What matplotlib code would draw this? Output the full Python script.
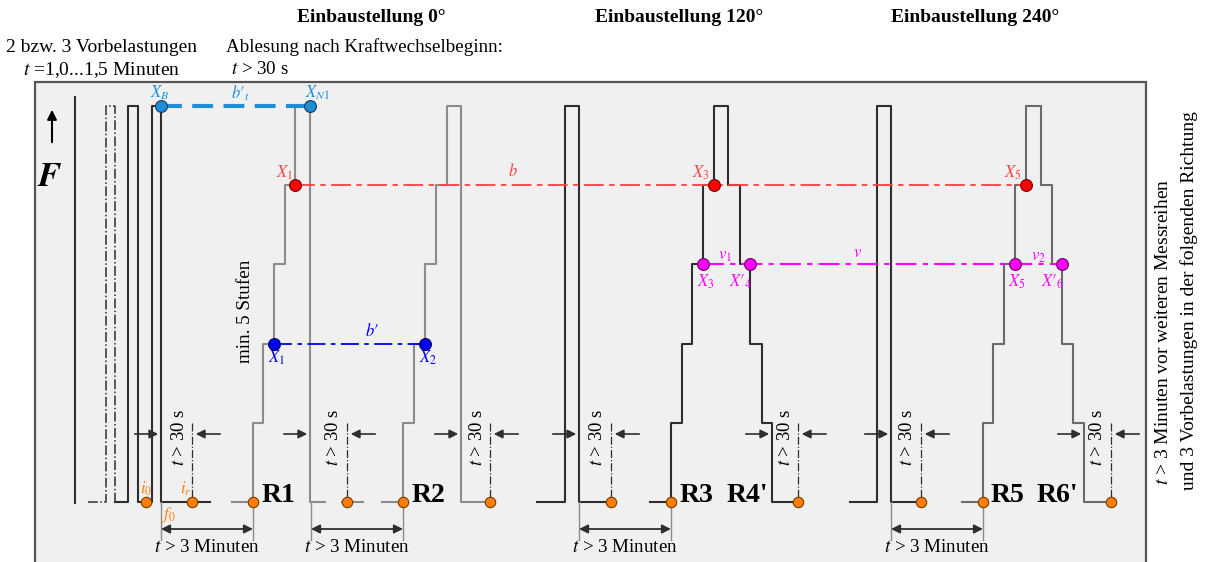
import matplotlib.pyplot as plt
from matplotlib.patches import Rectangle

plt.rcParams['font.family'] = ['Liberation Serif', 'DejaVu Serif']
plt.rcParams['mathtext.fontset'] = 'stix'

# force levels: 0 = baseline, 1..4 = load steps, 5 = full load
BASE_Y = 502
STEP = 79.2

# load profiles (time positions where the level changes, level after the change)
pre_dashdot_x = [88, 106, 115, 115]
pre_dashdot_lvl = [0, 5, 0, 0]
pre_solid_x = [115, 128, 138, 152, 161, 210]
pre_solid_lvl = [0, 5, 0, 5, 0, 0]
r1_x = [232, 253, 263, 274, 285, 295, 310, 325]
r1_lvl = [0, 1, 2, 3, 4, 5, 0, 0]
gap_x = [342, 363]
gap_lvl = [0, 0]
r2_x = [382, 403, 414, 425, 436, 447, 461, 490]
r2_lvl = [0, 1, 2, 3, 4, 5, 0, 0]
pulse120_x = [537, 565, 579, 611]
pulse120_lvl = [0, 5, 0, 0]
r34_x = [650, 671, 682, 692, 703, 714, 728, 740, 750, 762, 772, 798]
r34_lvl = [0, 1, 2, 3, 4, 5, 4, 3, 2, 1, 0, 0]
pulse240_x = [850, 877, 891, 921]
pulse240_lvl = [0, 5, 0, 0]
r56_x = [962, 983, 993, 1004, 1015, 1026, 1041, 1052, 1062, 1073, 1084, 1111]
r56_lvl = [0, 1, 2, 3, 4, 5, 4, 3, 2, 1, 0, 0]

# reading points
zero_x = [146, 192, 253, 347, 403, 490, 611, 671, 798, 921, 983, 1111]
top_x = [161, 310]
red_x = [295, 714, 1026]
mag_x = [703, 750, 1015, 1062]
blue_x = [274, 425]

# time dimensions
edge_x = [161, 310, 461, 579, 772, 891, 1084]
read_x = [192, 347, 490, 611, 798, 921, 1111]
wait_start = [161, 311, 579, 891]
wait_end = [253, 403, 671, 983]

r_names = ['R1', 'R2', 'R3', "R4'", 'R5', "R6'"]
r_x = [262, 412, 680, 727, 991, 1037]

GRAY = '#8c8c8c'
DARK = '#2e2e2e'
LBLUE = '#1e8fd6'
RED = '#ff4040'
MAG = '#ff00ff'
BLUE = '#0000ee'
ORANGE = '#ff8000'


def ly(lvl):
    if isinstance(lvl, (list, tuple)):
        return [BASE_Y - v * STEP for v in lvl]
    return BASE_Y - lvl * STEP


fig = plt.figure(figsize=(12.06, 5.62), dpi=100)
ax = fig.add_axes([0, 0, 1, 1])
ax.set_xlim(0, 1206)
ax.set_ylim(562, 0)
ax.axis('off')

ax.add_patch(Rectangle((35, 82), 1111, 490, facecolor='#f0f0f0',
                       edgecolor='#555555', lw=1.6, zorder=0))

# titles
for x, s in [(371, 'Einbaustellung 0°'), (679, 'Einbaustellung 120°'),
             (975, 'Einbaustellung 240°')]:
    ax.text(x, 18, s, ha='center', va='center', fontsize=14, fontweight='bold')
ax.text(102, 47, '2 bzw. 3 Vorbelastungen', ha='center', va='center', fontsize=14)
ax.text(102, 70, '$t$ =1,0...1,5 Minuten', ha='center', va='center', fontsize=14)
ax.text(226, 47, 'Ablesung nach Kraftwechselbeginn:', ha='left', va='center', fontsize=13.7)
ax.text(231, 70, '$t$ > 30 s', ha='left', va='center', fontsize=13.7)

ax.text(1164, 332, '$t$ > 3 Minuten vor weiteren Messreihen', rotation=90,
        ha='center', va='center', fontsize=14)
ax.text(1189, 301, 'und 3 Vorbelastungen in der folgenden Richtung', rotation=90,
        ha='center', va='center', fontsize=14)

# force axis
ax.plot([75, 75], [97, 503], color=DARK, lw=1.5)
ax.annotate('', xy=(52, 107), xytext=(52, 145),
            arrowprops=dict(arrowstyle='-|>', color='black', lw=1.5, mutation_scale=14))
ax.text(50, 177, '$\\boldsymbol{F}$', ha='center', va='center', fontsize=25)

# profiles
ax.step(pre_dashdot_x, ly(pre_dashdot_lvl), where='post', color=DARK, lw=1.1, ls='-.')
for xs, ls_, c in [(pre_solid_x, pre_solid_lvl, DARK), (r1_x, r1_lvl, GRAY),
                   (gap_x, gap_lvl, GRAY), (r2_x, r2_lvl, GRAY),
                   (pulse120_x, pulse120_lvl, DARK), (r34_x, r34_lvl, DARK),
                   (pulse240_x, pulse240_lvl, DARK), (r56_x, r56_lvl, '#6a6a6a')]:
    ax.step(xs, ly(ls_), where='post', color=c, lw=1.5)

# comparison lines
ax.plot([top_x[0], top_x[-1]], [ly(5)] * 2, color=LBLUE, lw=3, dashes=(5, 2.5))
ax.plot([red_x[0], red_x[-1]], [ly(4)] * 2, color=RED, lw=1.3, dashes=(11, 3, 3, 3))
ax.plot([mag_x[0], mag_x[-1]], [ly(3)] * 2, color=MAG, lw=1.5, dashes=(10, 3, 2.5, 3))
ax.plot([blue_x[0], blue_x[-1]], [ly(2)] * 2, color=BLUE, lw=1.3, dashes=(10, 3, 2.5, 3))

# t > 30 s markers
for e, r in zip(edge_x, read_x):
    ax.plot([r, r], [ly(1), ly(0)], color=DARK, lw=0.9, ls='-.')
    ax.annotate('', xy=(e, 434), xytext=(e - 29, 434),
                arrowprops=dict(arrowstyle='-|>', color=DARK, lw=1.2, mutation_scale=13))
    ax.annotate('', xy=(r + 1, 434), xytext=(r + 31, 434),
                arrowprops=dict(arrowstyle='-|>', color=DARK, lw=1.2, mutation_scale=13))
    ax.text(r - 13, 437, '$t$ > 30 s', rotation=90, ha='center', va='center', fontsize=13.5)

# t > 3 Minuten
for a, b in zip(wait_start, wait_end):
    ax.plot([a, a], [BASE_Y, 540], color=GRAY, lw=1)
    ax.plot([b, b], [BASE_Y, 540], color=GRAY, lw=1)
    ax.annotate('', xy=(a, 529), xytext=(b, 529),
                arrowprops=dict(arrowstyle='<|-|>', color=DARK, lw=1.3, mutation_scale=13,
                                shrinkA=0, shrinkB=0))
    ax.text((a + b) / 2, 547, '$t$ > 3 Minuten', ha='center', va='center', fontsize=13.7)

# points
ms = 8.5
ax.plot(zero_x, [ly(0)] * len(zero_x), 'o', color=ORANGE, mec='#7a3b00', mew=0.8, ms=7.5, zorder=5)
ax.plot(top_x, [ly(5)] * 2, 'o', color=LBLUE, mec='#0a3a60', mew=0.8, ms=ms, zorder=5)
ax.plot(red_x, [ly(4)] * 3, 'o', color='#ff0000', mec='#700000', mew=0.8, ms=ms, zorder=5)
ax.plot(mag_x, [ly(3)] * 4, 'o', color=MAG, mec='#600060', mew=0.8, ms=ms, zorder=5)
ax.plot(blue_x, [ly(2)] * 2, 'o', color=BLUE, mec='#000060', mew=0.8, ms=ms, zorder=5)

# point labels
lab = dict(ha='center', va='center', fontsize=12)
ax.text(160, 93, '$X_B$', color=LBLUE, **lab)
ax.text(318, 93, '$X_{N1}$', color=LBLUE, **lab)
ax.text(240, 93, '$b\u2032_{t}$', color=LBLUE, **lab)
ax.text(285, 173, '$X_1$', color=RED, **lab)
ax.text(701, 173, '$X_3$', color=RED, **lab)
ax.text(1013, 173, '$X_5$', color=RED, **lab)
ax.text(513, 172, '$b$', color=RED, **lab)
ax.text(706, 282, '$X_3$', color=MAG, **lab)
ax.text(741, 282, '$X\u2032_{4}$', color=MAG, **lab)
ax.text(725, 256, '$v_1$', color=MAG, **lab)
ax.text(858, 253, '$v$', color=MAG, **lab)
ax.text(1038, 257, '$v_2$', color=MAG, **lab)
ax.text(1017, 282, '$X_5$', color=MAG, **lab)
ax.text(1053, 282, '$X\u2032_{6}$', color=MAG, **lab)
ax.text(372, 331, '$b\u2032$', color=BLUE, **lab)
ax.text(277, 358, '$X_1$', color=BLUE, **lab)
ax.text(428, 358, '$X_2$', color=BLUE, **lab)
ax.text(146, 489, '$i_0$', color=ORANGE, **lab)
ax.text(186, 489, '$i_r$', color=ORANGE, **lab)
ax.text(168, 515, '$f_0$', color=ORANGE, **lab)

ax.text(246, 311, 'min. 5 Stufen', rotation=90, ha='center', va='center', fontsize=13.8)

for name, x in zip(r_names, r_x):
    ax.text(x, 495, name, ha='left', va='center', fontsize=20, fontweight='bold')

fig.savefig('out.png', dpi=100)
